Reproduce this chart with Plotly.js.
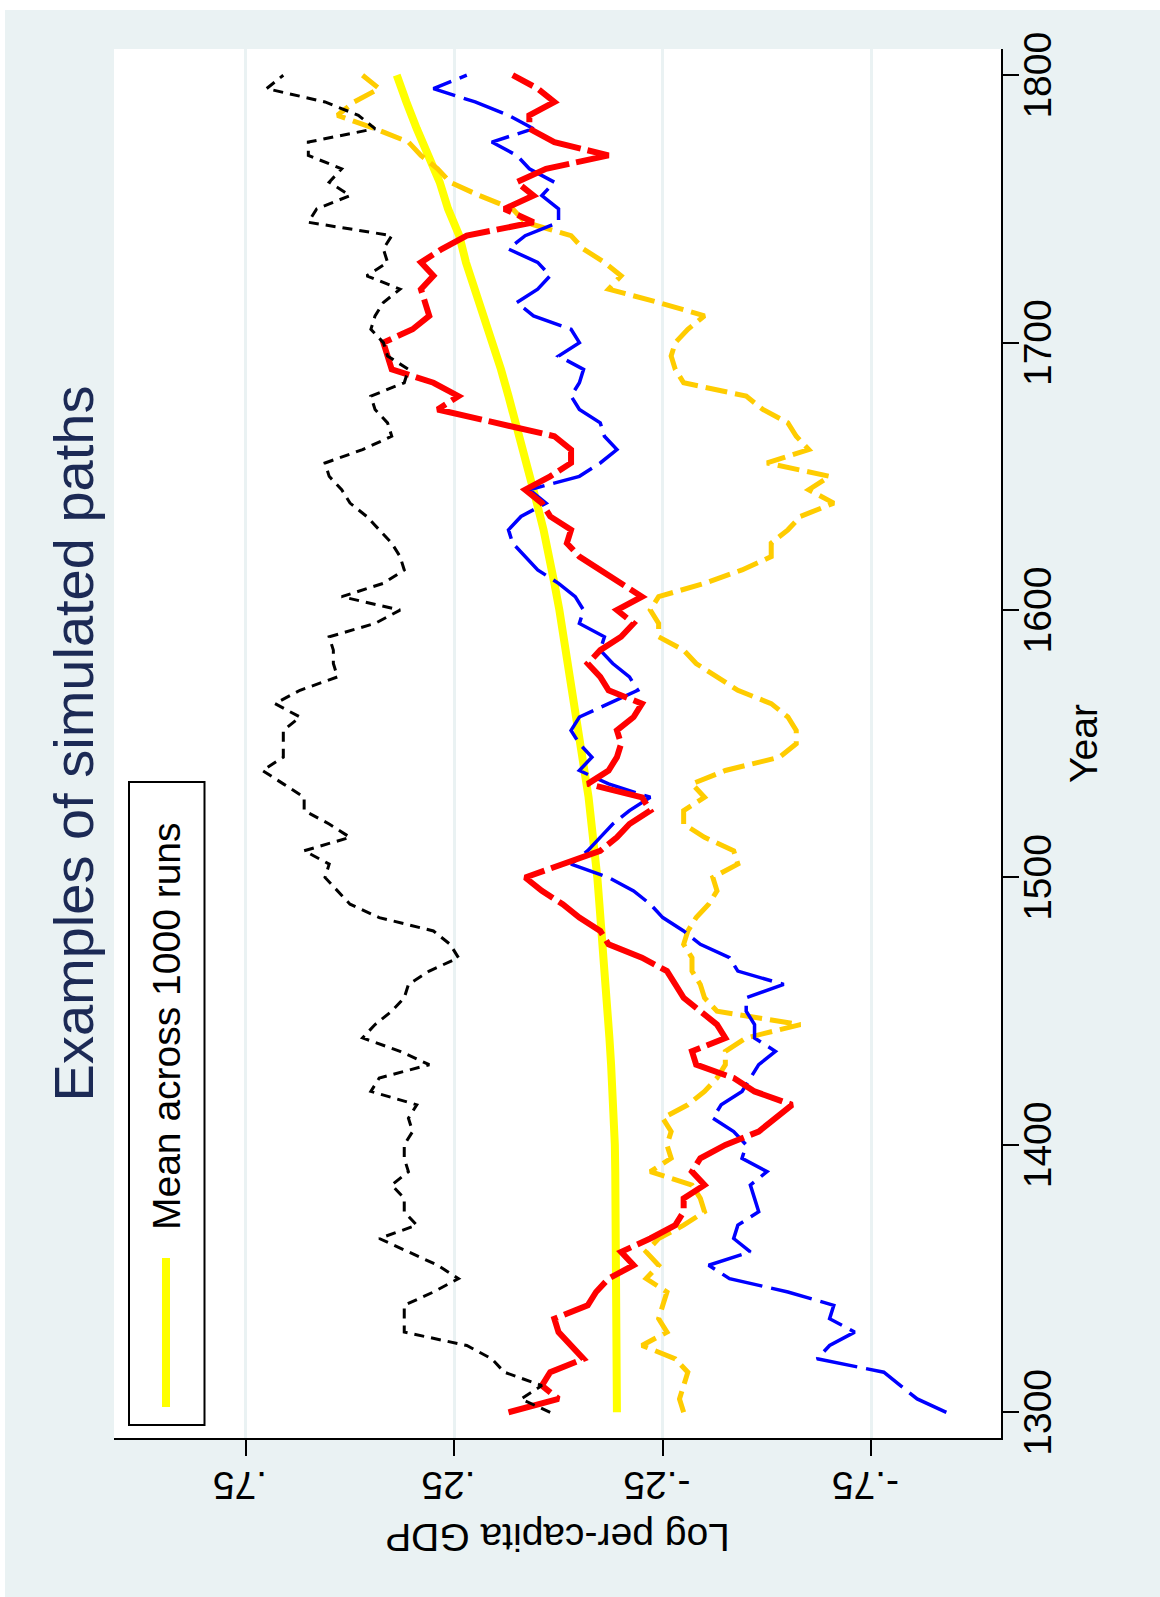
<!DOCTYPE html>
<html><head><meta charset="utf-8">
<script src="https://cdn.plot.ly/plotly-3.0.1.min.js"></script>
<style>
html,body{margin:0;padding:0;background:#ffffff;width:1160px;height:1597px;overflow:hidden;}
#chart{position:absolute;left:0;top:0;width:1587px;height:1155px;transform-origin:0 0;transform:translate(5px,1597px) rotate(-90deg);}
</style></head><body>
<div id="chart"></div>
<script>
// ---------------- data ----------------
const years = [1300,1305,1310,1315,1320,1325,1330,1335,1340,1345,1350,1355,1360,1365,1370,1375,1380,1385,1390,1395,
 1400,1405,1410,1415,1420,1425,1430,1435,1440,1445,1450,1455,1460,1465,1470,1475,1480,1485,1490,1495,
 1500,1505,1510,1515,1520,1525,1530,1535,1540,1545,1550,1555,1560,1565,1570,1575,1580,1585,1590,1595,
 1600,1605,1610,1615,1620,1625,1630,1635,1640,1645,1650,1655,1660,1665,1670,1675,1680,1685,1690,1695,
 1700,1705,1710,1715,1720,1725,1730,1735,1740,1745,1750,1755,1760,1765,1770,1775,1780,1785,1790,1795,1800];

const meanYears = [1300,1310,1320,1330,1340,1350,1360,1370,1380,1390,1400,1410,1420,1430,1440,1450,1460,1470,1480,1490,
 1500,1510,1520,1530,1540,1550,1560,1570,1580,1590,1600,1610,1620,1630,1640,1650,1660,1670,1680,1690,
 1700,1710,1720,1730,1740,1750,1760,1770,1780,1790,1800];
const meanRuns = [-0.140,-0.140,-0.139,-0.139,-0.138,-0.138,-0.137,-0.137,-0.136,-0.136,-0.135,-0.133,-0.130,-0.126,-0.122,-0.118,-0.113,-0.108,-0.103,-0.098,
 -0.093,-0.087,-0.079,-0.072,-0.062,-0.052,-0.044,-0.035,-0.024,-0.013,-0.002,0.010,0.022,0.036,0.052,0.068,0.085,0.102,0.120,0.138,
 0.160,0.182,0.203,0.222,0.238,0.265,0.285,0.315,0.340,0.365,0.388];

const pathBlack = [0.02,0.09,0.04,0.13,0.16,0.22,0.37,0.37,0.37,0.30,0.24,0.29,0.36,0.43,0.34,0.37,0.37,0.40,0.36,0.37,
 0.37,0.35,0.36,0.34,0.45,0.43,0.31,0.38,0.47,0.44,0.40,0.37,0.36,0.31,0.24,0.26,0.30,0.43,0.50,0.53,
 0.56,0.55,0.61,0.50,0.55,0.61,0.61,0.66,0.71,0.66,0.66,0.66,0.62,0.68,0.62,0.53,0.54,0.54,0.55,0.44,
 0.38,0.52,0.42,0.37,0.38,0.40,0.43,0.46,0.50,0.52,0.55,0.56,0.47,0.40,0.41,0.44,0.45,0.37,0.36,0.41,
 0.42,0.45,0.44,0.42,0.38,0.46,0.41,0.42,0.40,0.60,0.58,0.50,0.55,0.52,0.60,0.60,0.44,0.48,0.56,0.70,0.66];

const pathRed = [0.12,0.00,0.04,0.02,-0.06,-0.03,0.00,0.01,-0.07,-0.09,-0.12,-0.18,-0.15,-0.22,-0.28,-0.30,-0.30,-0.35,-0.32,-0.34,
 -0.40,-0.48,-0.52,-0.56,-0.47,-0.42,-0.33,-0.32,-0.40,-0.38,-0.34,-0.30,-0.28,-0.26,-0.20,-0.12,-0.10,-0.05,-0.01,0.04,
 0.08,-0.01,-0.10,-0.14,-0.17,-0.22,-0.20,-0.07,-0.12,-0.14,-0.15,-0.14,-0.18,-0.20,-0.12,-0.10,-0.07,-0.10,-0.15,-0.18,
 -0.14,-0.20,-0.15,-0.10,-0.05,-0.02,-0.03,0.02,0.04,0.08,0.02,-0.03,-0.03,0.01,0.15,0.29,0.24,0.30,0.40,0.41,
 0.42,0.35,0.31,0.32,0.33,0.30,0.33,0.28,0.22,0.06,0.13,0.06,0.10,0.03,-0.12,0.01,0.07,0.07,0.01,0.05,0.11];

const pathBlue = [-0.93,-0.86,-0.82,-0.78,-0.62,-0.65,-0.71,-0.65,-0.66,-0.55,-0.41,-0.36,-0.46,-0.42,-0.43,-0.48,-0.47,-0.46,-0.50,-0.44,
 -0.45,-0.42,-0.37,-0.39,-0.44,-0.46,-0.48,-0.52,-0.47,-0.47,-0.45,-0.45,-0.54,-0.43,-0.41,-0.34,-0.30,-0.25,-0.22,-0.18,
 -0.12,-0.03,-0.07,-0.10,-0.13,-0.17,-0.22,-0.12,-0.05,-0.08,-0.05,-0.03,-0.05,-0.12,-0.19,-0.17,-0.13,-0.10,-0.11,-0.05,
 -0.06,-0.04,0.00,0.05,0.08,0.11,0.12,0.09,0.03,0.07,-0.05,-0.10,-0.14,-0.11,-0.10,-0.05,-0.03,-0.05,-0.06,0.00,
 -0.05,-0.03,0.06,0.10,0.05,0.02,0.05,0.12,0.08,0.00,0.00,0.04,0.01,0.07,0.10,0.16,0.06,0.12,0.20,0.30,0.22];

const pathGold = [-0.30,-0.29,-0.30,-0.31,-0.28,-0.20,-0.26,-0.24,-0.25,-0.26,-0.21,-0.24,-0.21,-0.24,-0.30,-0.35,-0.34,-0.32,-0.22,-0.27,
 -0.26,-0.27,-0.25,-0.31,-0.35,-0.38,-0.40,-0.40,-0.45,-0.58,-0.38,-0.35,-0.34,-0.32,-0.32,-0.30,-0.31,-0.33,-0.36,-0.38,
 -0.37,-0.43,-0.42,-0.35,-0.30,-0.30,-0.35,-0.32,-0.40,-0.53,-0.57,-0.57,-0.55,-0.51,-0.43,-0.38,-0.33,-0.30,-0.24,-0.24,
 -0.22,-0.24,-0.35,-0.44,-0.51,-0.51,-0.55,-0.58,-0.66,-0.60,-0.65,-0.50,-0.60,-0.57,-0.55,-0.49,-0.45,-0.30,-0.28,-0.27,
 -0.28,-0.31,-0.35,-0.24,-0.12,-0.15,-0.11,-0.06,-0.03,0.08,0.11,0.19,0.26,0.29,0.33,0.36,0.44,0.53,0.49,0.43,0.47];

const yTickVals = [-0.75,-0.25,0.25,0.75];
const yTickText = ['-.75','-.25','.25','.75'];
const xTickVals = [1300,1400,1500,1600,1700,1800];
const xTickText = ['1300','1400','1500','1600','1700','1800'];
const legendLabel = 'Mean across 1000 runs';

// ---------------- layout geometry (unrotated frame) ----------------
const W = 1587, H = 1155;
const M = {l:159, r:39, t:109, b:159};
const PW = W - M.l - M.r, PH = H - M.t - M.b;
const px = u => (u - M.l) / PW;
const py = v => 1 - (v - M.t) / PH;
const FONT = 'Liberation Sans, Arial, Helvetica, sans-serif';

const traces = [
  {x: meanYears, y: meanRuns, type:'scatter', mode:'lines', name: legendLabel,
   line:{color:'#FFFF00', width:8}},
  {x: years, y: pathGold, type:'scatter', mode:'lines', showlegend:false,
   line:{color:'#FFCC00', width:5, dash:'22px,8px'}},
  {x: years, y: pathBlue, type:'scatter', mode:'lines', showlegend:false,
   line:{color:'#0000FF', width:3.5, dash:'42px,9px'}},
  {x: years, y: pathRed, type:'scatter', mode:'lines', showlegend:false,
   line:{color:'#FF0000', width:6, dash:'55px,7px'}},
  {x: years, y: pathBlack, type:'scatter', mode:'lines', showlegend:false,
   line:{color:'#000000', width:3, dash:'10px,7px'}}
];

const layout = {
  width: W, height: H,
  margin: M,
  paper_bgcolor: '#EAF2F3',
  plot_bgcolor: '#FFFFFF',
  showlegend: false,
  font: {family: FONT, size: 39, color: '#000000'},
  title: {text: 'Examples of simulated paths', font:{family: FONT, size:56, color:'#1C2A55'},
          xref:'paper', x:0.5, xanchor:'center', yref:'container', y: 1 - 68/H, yanchor:'middle'},
  xaxis: {range:[1290.4, 1809.8], tickvals: xTickVals, ticktext: xTickText,
          ticks:'outside', ticklen:16, tickwidth:2, tickcolor:'#000000', ticklabelstandoff:-15,
          showline:true, linecolor:'#000000', linewidth:2, showgrid:false, zeroline:false,
          tickfont:{family:FONT, size:39, color:'#000000'},
          title:{text:'Year', font:{family:FONT, size:39, color:'#000000'}, standoff:12}},
  yaxis: {range:[-1.061, 1.066], tickvals: yTickVals, ticktext: yTickText, tickangle:-90,
          ticks:'outside', ticklen:16, tickwidth:2, tickcolor:'#000000',
          showline:true, linecolor:'#000000', linewidth:2,
          showgrid:true, gridcolor:'#EAF2F3', gridwidth:3, zeroline:false,
          tickfont:{family:FONT, size:39, color:'#000000'},
          title:{text:'Log per-capita GDP', font:{family:FONT, size:39, color:'#000000'}, standoff:5}},
  shapes: [
    {type:'rect', xref:'paper', yref:'paper', x0:px(172), x1:px(815), y0:py(199.5), y1:py(124),
     line:{color:'#000000', width:2}, fillcolor:'#FFFFFF', layer:'above'},
    {type:'line', xref:'paper', yref:'paper', x0:px(190), x1:px(339), y0:py(161), y1:py(161),
     line:{color:'#FFFF00', width:8}, layer:'above'}
  ],
  annotations: [
    {text: legendLabel, xref:'paper', yref:'paper', x:px(365), y:py(161), xanchor:'left', yanchor:'middle',
     showarrow:false, font:{family:FONT, size:39, color:'#000000'}}
  ]
};

Plotly.newPlot('chart', traces, layout, {displayModeBar:false, staticPlot:true});
</script>
</body></html>
